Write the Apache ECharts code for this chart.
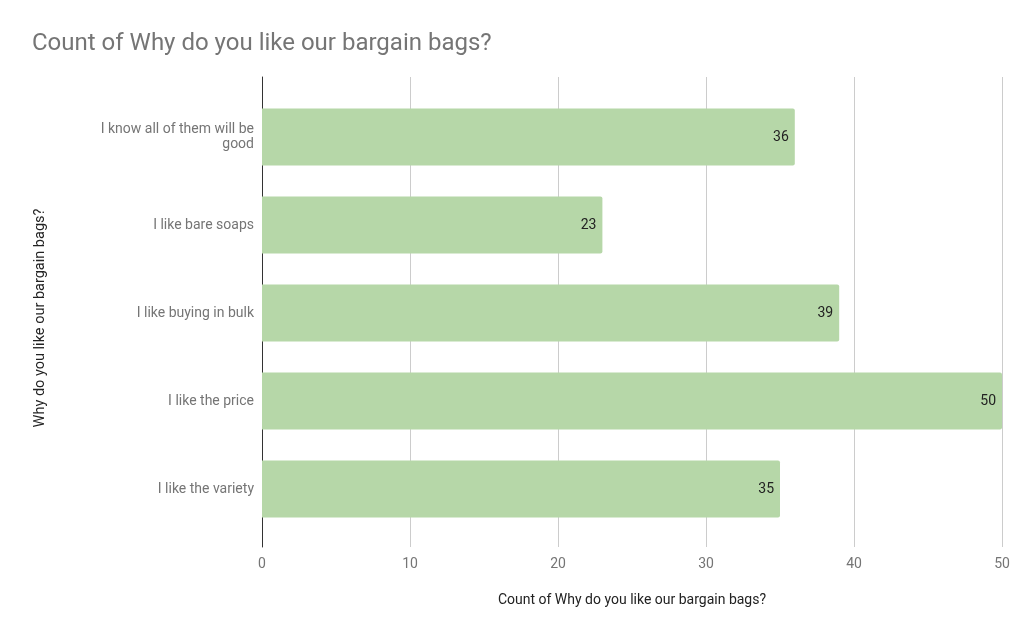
<!DOCTYPE html>
<html><head><meta charset="utf-8">
<script src="https://cdn.jsdelivr.net/npm/echarts@6/dist/echarts.min.js"></script>
<style>html,body{margin:0;padding:0;background:#fff}#c{width:1033px;height:639px}</style>
</head><body><div id="c"></div>
<script>
const categories = ["I know all of them will be\ngood", "I like bare soaps", "I like buying in bulk", "I like the price", "I like the variety"];
const counts = [36, 23, 39, 50, 35];
const xTicks = [0, 10, 20, 30, 40, 50];
const titleText = "Count of Why do you like our bargain bags?";
const xName = "Count of Why do you like our bargain bags?";
const yName = "Why do you like our bargain bags?";

const font = "Roboto";
const chart = echarts.init(document.getElementById('c'), null, {renderer: 'canvas'});
chart.setOption({
  animation: false,
  backgroundColor: '#fff',
  title: {text: titleText, left: 27, top: 27, textStyle: {fontFamily: font, fontSize: 24, fontWeight: 'normal', color: '#757575'}},
  grid: [
    {left: 262, right: 31, top: 77, height: 470},
    {left: 262, right: 31, top: 93, height: 440}
  ],
  xAxis: [
    {gridIndex: 0, type: 'value', min: xTicks[0], max: xTicks[xTicks.length-1], interval: 10,
     axisLine: {show: false}, axisTick: {show: false},
     splitLine: {show: true, lineStyle: {color: '#cccccc', width: 1}},
     axisLabel: {fontFamily: font, fontSize: 14, color: '#757575', margin: 10},
     name: xName, nameLocation: 'middle', nameGap: 46,
     nameTextStyle: {fontFamily: font, fontSize: 14, color: '#222222'}},
    {gridIndex: 1, type: 'value', min: xTicks[0], max: xTicks[xTicks.length-1], show: false}
  ],
  yAxis: [
    {gridIndex: 0, type: 'value', min: 0, max: 1, show: true,
     axisLine: {show: true, lineStyle: {color: '#333333', width: 1}},
     axisTick: {show: false}, axisLabel: {show: false}, splitLine: {show: false},
     name: yName, nameLocation: 'middle', nameGap: 214, nameRotate: 90,
     nameTextStyle: {fontFamily: font, fontSize: 14.5, color: '#222222', padding: [0, 12, 0, 0]}},
    {gridIndex: 1, type: 'category', data: categories, inverse: true,
     axisLine: {show: false}, axisTick: {show: false},
     axisLabel: {fontFamily: font, fontSize: 14, color: '#757575', margin: 8, lineHeight: 15, align: 'right'}}
  ],
  series: [{
    type: 'bar', xAxisIndex: 1, yAxisIndex: 1, data: counts, barWidth: 57,
    itemStyle: {color: '#b6d7a8', borderRadius: [0, 2, 2, 0]},
    label: {show: true, position: 'insideRight', distance: 6, fontFamily: font, fontSize: 14, color: '#222222'}
  }]
});
</script></body></html>
